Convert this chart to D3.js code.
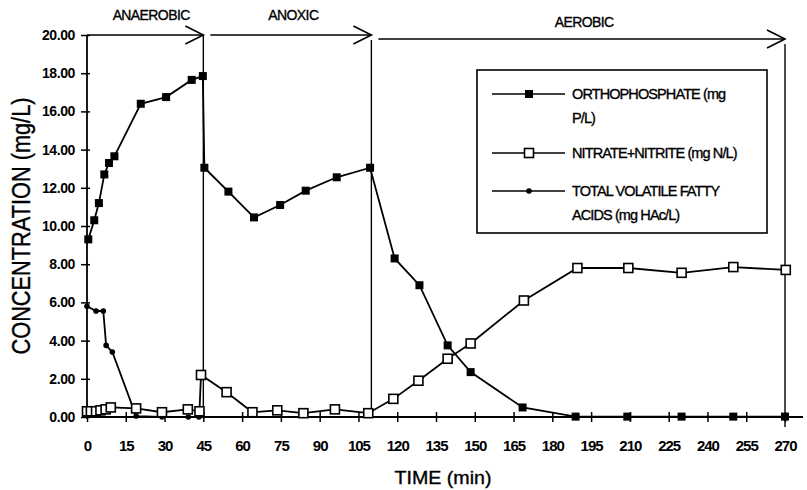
<!DOCTYPE html>
<html>
<head>
<meta charset="utf-8">
<script src="https://cdn.jsdelivr.net/npm/d3@7"></script>
<style>
  body { margin: 0; background: #fff; }
</style>
</head>
<body>
<div id="chart"></div>
<script>
// Orthophosphate (mg P/L)
const phosTime = [0.5, 2.8, 4.6, 6.7, 8.5, 10.6, 20.8, 30.6, 40.5, 44.8, 45.4, 54.7, 64.6, 74.7, 84.6, 96.6, 109.5, 119, 128.6, 139.5, 148.4, 168.5, 189, 209, 230, 250, 270];
const phosValue = [9.3, 10.3, 11.2, 12.7, 13.3, 13.65, 16.4, 16.75, 17.65, 17.85, 13.05, 11.8, 10.45, 11.1, 11.85, 12.55, 13.05, 8.3, 6.9, 3.75, 2.35, 0.5, 0.02, 0.02, 0.02, 0.02, 0.02];

// Nitrate + nitrite (mg N/L)
const nitTime = [0, 1.5, 3.5, 5.2, 7.2, 9.2, 19, 29, 39, 43.5, 44.1, 54, 64, 73.6, 83.7, 95.9, 108.8, 118.5, 128.2, 139.5, 148.4, 169, 189.7, 209.4, 230, 250, 270.3];
const nitValue = [0.3, 0.3, 0.3, 0.35, 0.4, 0.5, 0.45, 0.25, 0.4, 0.3, 2.2, 1.3, 0.25, 0.35, 0.2, 0.4, 0.2, 0.95, 1.9, 3.05, 3.85, 6.1, 7.8, 7.8, 7.55, 7.85, 7.7];

// Total volatile fatty acids (mg HAc/L)
const vfaTime = [0, 3.5, 6.3, 7.4, 9.8, 19, 29, 39.2, 43.3];
const vfaValue = [5.8, 5.55, 5.55, 3.75, 3.4, 0.05, 0, 0, 0];

const xTicks = [0, 15, 30, 45, 60, 75, 90, 105, 120, 135, 150, 165, 180, 195, 210, 225, 240, 255, 270];
const yTicks = [0, 2, 4, 6, 8, 10, 12, 14, 16, 18, 20];

const phaseNames = ["ANAEROBIC", "ANOXIC", "AEROBIC"];
const phaseBounds = [0, 45, 110, 270];

const legendLabels = [
  ["ORTHOPHOSPHATE (mg", "P/L)"],
  ["NITRATE+NITRITE (mg N/L)"],
  ["TOTAL VOLATILE FATTY", "ACIDS (mg HAc/L)"]
];

const width = 807, height = 490;
const font = "'Liberation Sans', Arial, sans-serif";

const svg = d3.select("#chart").append("svg")
  .attr("width", width)
  .attr("height", height)
  .style("font-family", font);

svg.append("rect").attr("width", width).attr("height", height).attr("fill", "#fff");

const x = d3.scaleLinear().domain([0, 270]).range([87, 785]);
const y = d3.scaleLinear().domain([0, 20]).range([417, 35]);

// text looks a bit heavy in the scan, thicken it slightly
const heavy = sel => sel.attr("stroke", "#000").attr("stroke-width", 0.35).attr("fill", "#000");

// axis lines
svg.append("line")
  .attr("x1", x(0)).attr("x2", x(0))
  .attr("y1", y(20)).attr("y2", y(0) + 2)
  .attr("stroke", "#000").attr("stroke-width", 1.8);
svg.append("line")
  .attr("x1", x(0) - 5).attr("x2", x(270) + 18)
  .attr("y1", y(0)).attr("y2", y(0))
  .attr("stroke", "#000").attr("stroke-width", 1.8);

// y axis
const yAxis = svg.append("g")
  .attr("transform", `translate(${x(0)},0)`)
  .call(d3.axisLeft(y).tickValues(yTicks).tickFormat(d3.format(".2f")).tickSize(6).tickPadding(6));
yAxis.select(".domain").remove();
yAxis.selectAll(".tick line").attr("x1", 3).attr("stroke-width", 1.5);
yAxis.selectAll(".tick text")
  .attr("font-family", font).attr("font-size", 14).attr("font-weight", "bold")
  .attr("letter-spacing", -0.4).attr("fill", "#000");

// x axis
const xAxis = svg.append("g")
  .attr("transform", `translate(0,${y(0)})`)
  .call(d3.axisBottom(x).tickValues(xTicks).tickFormat(d3.format("d")).tickSize(5).tickPadding(18));
xAxis.select(".domain").remove();
xAxis.selectAll(".tick line").attr("y1", -5).attr("stroke-width", 1.5);
xAxis.selectAll(".tick text")
  .attr("font-family", font).attr("font-size", 15).attr("font-weight", "bold")
  .attr("letter-spacing", -1).attr("fill", "#000");

// axis titles
svg.append("text")
  .attr("transform", `translate(21,226) rotate(-90)`)
  .attr("text-anchor", "middle")
  .attr("dy", "0.36em")
  .attr("font-size", 26)
  .attr("textLength", 257)
  .attr("lengthAdjust", "spacingAndGlyphs")
  .call(heavy)
  .text("CONCENTRATION (mg/L)");

svg.append("text")
  .attr("x", 443).attr("y", 484)
  .attr("text-anchor", "middle")
  .attr("font-size", 18)
  .attr("textLength", 97)
  .attr("lengthAdjust", "spacingAndGlyphs")
  .call(heavy)
  .text("TIME (min)");

// phase arrows, boundaries and labels
const phases = phaseNames.map((name, i) => ({ name, start: phaseBounds[i], end: phaseBounds[i + 1] }));
const gPhase = svg.append("g").attr("stroke", "#000").attr("fill", "none").attr("stroke-width", 1.6);
phases.forEach((p, i) => {
  const x0 = x(p.start) + (i === 0 ? 0 : 7);
  const x1 = x(p.end);
  const yy = y(20) + (i === 2 ? 4 : 0);
  gPhase.append("line").attr("x1", x0).attr("x2", x1).attr("y1", yy).attr("y2", yy);
  gPhase.append("path").attr("d", `M${x1 - 18},${yy - 9}L${x1},${yy}L${x1 - 18},${yy + 9}`);
  gPhase.append("line")
    .attr("x1", x1).attr("x2", x1)
    .attr("y1", yy + (i === 0 ? 0 : 5)).attr("y2", y(0) + (i === 2 ? 10 : 0))
    .attr("stroke-width", 1.4);
  svg.append("text")
    .attr("x", (x(p.start) + x(p.end)) / 2 + 6)
    .attr("y", i === 2 ? 27 : 20)
    .attr("text-anchor", "middle")
    .attr("font-size", 14)
    .attr("letter-spacing", -0.6)
    .call(heavy)
    .text(p.name);
});

// series
const line = d3.line().x(d => x(d[0])).y(d => y(d[1]));
const phos = phosTime.map((t, i) => [t, phosValue[i]]);
const nit = nitTime.map((t, i) => [t, nitValue[i]]);
const vfa = vfaTime.map((t, i) => [t, vfaValue[i]]);

[phos, nit, vfa].forEach(s => {
  svg.append("path").datum(s).attr("d", line)
    .attr("fill", "none").attr("stroke", "#000").attr("stroke-width", 1.8);
});

svg.append("g").selectAll("circle").data(vfa).join("circle")
  .attr("cx", d => x(d[0])).attr("cy", d => y(d[1])).attr("r", 2.8).attr("fill", "#000");

svg.append("g").selectAll("rect").data(nit).join("rect")
  .attr("x", d => x(d[0]) - 4.5).attr("y", d => y(d[1]) - 4.5)
  .attr("width", 9).attr("height", 9)
  .attr("fill", "#fff").attr("stroke", "#000").attr("stroke-width", 1.6);

svg.append("g").selectAll("rect").data(phos).join("rect")
  .attr("x", d => x(d[0]) - 4).attr("y", d => y(d[1]) - 4)
  .attr("width", 8).attr("height", 8).attr("fill", "#000");

// legend
const legend = svg.append("g");
legend.append("rect")
  .attr("x", 477).attr("y", 70).attr("width", 290).attr("height", 163)
  .attr("fill", "#fff").attr("stroke", "#000").attr("stroke-width", 1.6);

const legendY = [94, 153, 191];
legendLabels.forEach((lines, i) => {
  const ly = legendY[i];
  legend.append("line").attr("x1", 492).attr("x2", 565).attr("y1", ly).attr("y2", ly)
    .attr("stroke", "#000").attr("stroke-width", 1.6);
  if (i === 0) {
    legend.append("rect").attr("x", 529 - 4).attr("y", ly - 4).attr("width", 8).attr("height", 8).attr("fill", "#000");
  } else if (i === 1) {
    legend.append("rect").attr("x", 529 - 4.5).attr("y", ly - 4.5).attr("width", 9).attr("height", 9)
      .attr("fill", "#fff").attr("stroke", "#000").attr("stroke-width", 1.6);
  } else {
    legend.append("circle").attr("cx", 529).attr("cy", ly).attr("r", 2.8).attr("fill", "#000");
  }
  lines.forEach((txt, j) => {
    legend.append("text")
      .attr("x", 572).attr("y", ly + 5 + j * 24)
      .attr("font-size", 14.5)
      .attr("letter-spacing", -0.9)
      .call(heavy)
      .text(txt);
  });
});
</script>
</body>
</html>
